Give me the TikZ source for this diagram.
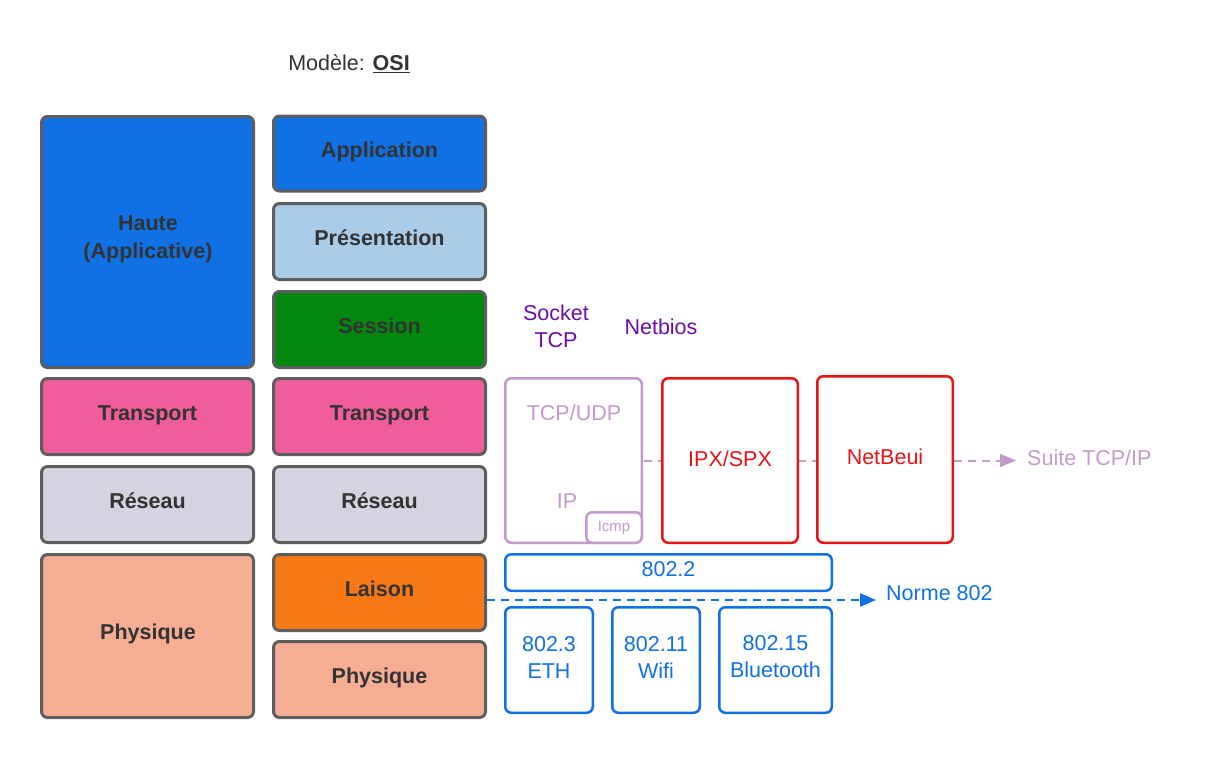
\documentclass[tikz,border=0pt]{standalone}
\usepackage{fontspec}
\setmainfont{Liberation Sans}
\usetikzlibrary{arrows.meta}
\definecolor{bordergrey}{HTML}{5E5E5E}
\definecolor{txtdark}{HTML}{333333}
\definecolor{cblue}{HTML}{1071E5}
\definecolor{clightblue}{HTML}{A9CCE8}
\definecolor{cgreen}{HTML}{02880E}
\definecolor{cpink}{HTML}{EF5E9A}
\definecolor{clav}{HTML}{D4D3E0}
\definecolor{corange}{HTML}{F77814}
\definecolor{csalmon}{HTML}{F5AD94}
\definecolor{cpurple}{HTML}{C39BCB}
\definecolor{cviolet}{HTML}{6A0DAD}
\definecolor{cred}{HTML}{E81416}
\begin{document}
\begin{tikzpicture}[x=1pt,y=-1pt,
  layer/.style={draw=bordergrey, line width=3pt, rounded corners=6pt, text=txtdark,
    font=\bfseries\fontsize{21.5}{28}\selectfont, align=center, inner sep=0pt, minimum width=212pt,
    text height=16pt, text depth=7.5pt},
  proto/.style={line width=2.5pt, rounded corners=6pt, fill=white, align=center, inner sep=0pt,
    font=\fontsize{21.5}{27}\selectfont},
  lbl/.style={inner sep=0pt, align=center, font=\fontsize{21.5}{27}\selectfont},
  blbl/.style={lbl, text=txtdark, font=\bfseries\fontsize{21.5}{28}\selectfont},
  pdash/.style={draw=cpurple, line width=2pt, dash pattern=on 8pt off 6pt},
  bdash/.style={draw=cblue, line width=2pt, dash pattern=on 8pt off 6pt},
  tip/.style={-{Triangle[length=16pt,width=13pt]}}
]
\useasboundingbox (0,0) rectangle (1207,760);

% title
\node[lbl, text=txtdark] (title) at (349,64) {Modèle: \textbf{\underline{OSI}}};

% left column
\node[layer, fill=cblue, minimum height=251pt] (haute) at (147.5,242) {};
\node[blbl] (hauteTxt) at (148,239) {Haute\\(Applicative)};
\node[layer, fill=cpink, minimum height=76pt] (transL) at (147.5,416.5) {Transport};
\node[layer, fill=clav, minimum height=76pt] (resL) at (147.5,504.5) {Réseau};
\node[layer, fill=csalmon, minimum height=163pt] (physL) at (147.5,636) {};
\node[blbl] (physLTxt) at (148,634) {Physique};

% OSI column
\node[layer, fill=cblue, minimum height=75pt] (app) at (379.5,153.5) {Application};
\node[layer, fill=clightblue, minimum height=76pt] (pres) at (379.5,241.5) {Présentation};
\node[layer, fill=cgreen, minimum height=76pt] (sess) at (379.5,329.5) {Session};
\node[layer, fill=cpink, minimum height=76pt] (trans) at (379.5,416.5) {Transport};
\node[layer, fill=clav, minimum height=76pt] (res) at (379.5,504.5) {Réseau};
\node[layer, fill=corange, minimum height=76pt] (laison) at (379.5,592.5) {Laison};
\node[layer, fill=csalmon, minimum height=76pt] (phys) at (379.5,679.5) {Physique};

% labels above
\node[lbl, text=cviolet] (socket) at (556,326) {Socket\\TCP};
\node[lbl, text=cviolet] (netbios) at (661,327) {Netbios};

% dashed purple line (behind boxes)
\coordinate (sarrow) at (1016,460.5);
\draw[pdash] (573.5,460.5) -- (954,460.5);
\draw[pdash, tip] (954,460.5) -- (sarrow);

% protocol boxes
\node[proto, draw=cpurple, minimum width=136.5pt, minimum height=164.5pt] (tcp) at (573.5,460.5) {};
\node[lbl, text=cpurple] (tcpudp) at (574,413) {TCP/UDP};
\node[lbl, text=cpurple] (ip) at (567,501) {IP};
\node[proto, draw=cpurple, text=cpurple, minimum width=55.5pt, minimum height=30.5pt,
  font=\fontsize{15}{18}\selectfont] (icmp) at (614,527.5) {Icmp};
\node[proto, draw=cred, minimum width=135.5pt, minimum height=164.5pt] (ipx) at (730,460.5) {};
\node[lbl, text=cred] (ipxTxt) at (730,459) {IPX/SPX};
\node[proto, draw=cred, minimum width=135.5pt, minimum height=166.5pt] (netbeui) at (885,459.5) {};
\node[lbl, text=cred] (netbeuiTxt) at (885,457) {NetBeui};
\node[lbl, text=cpurple, anchor=west] (suite) at (1027,458) {Suite TCP/IP};

% 802 family
\node[proto, draw=cblue, minimum width=326.5pt, minimum height=36.5pt] (n8022) at (668.5,572.5) {};
\node[lbl, text=cblue] (n8022Txt) at (668.5,569.5) {802.2};
\node[proto, draw=cblue, minimum width=87.5pt, minimum height=105.5pt] (n8023) at (549,660) {};
\node[lbl, text=cblue] (n8023Txt) at (549,657) {802.3\\ETH};
\node[proto, draw=cblue, minimum width=87.5pt, minimum height=105.5pt] (n80211) at (656,660) {};
\node[lbl, text=cblue] (n80211Txt) at (656,657) {802.11\\Wifi};
\node[proto, draw=cblue, minimum width=112.5pt, minimum height=105.5pt] (n80215) at (775.5,660) {};
\node[lbl, text=cblue] (n80215Txt) at (775.5,657) {802.15\\Bluetooth};

\coordinate (narrow) at (876,600);
\draw[bdash, tip] ([yshift=-7.5pt]laison.east) -- (narrow);
\node[lbl, text=cblue, anchor=west] (norme) at (886,593) {Norme 802};
\end{tikzpicture}
\end{document}
